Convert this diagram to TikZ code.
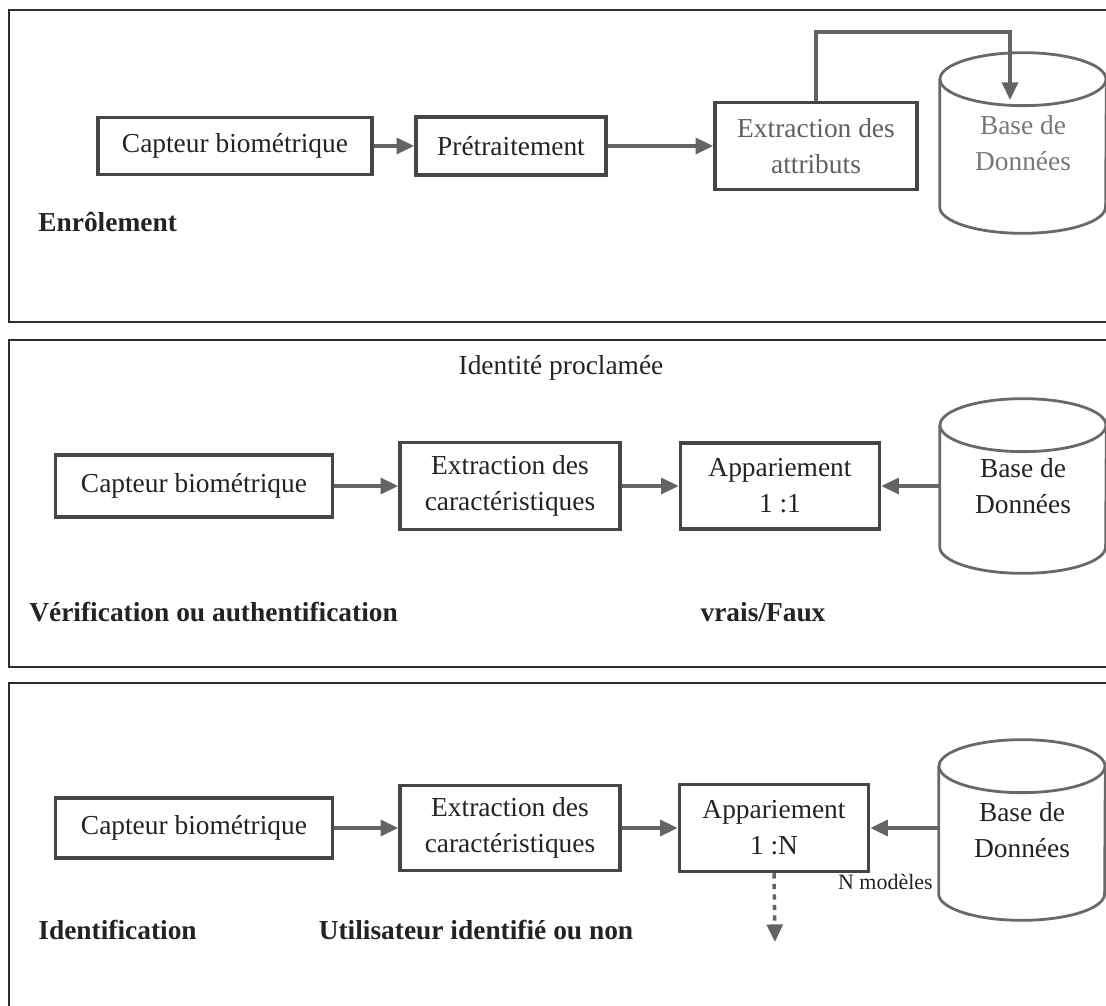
\documentclass[tikz,border=0pt]{standalone}
\usepackage{fontspec}
\setmainfont{Liberation Serif}
\usetikzlibrary{arrows.meta,positioning}
\definecolor{framecolor}{RGB}{45,45,45}
\definecolor{boxcolor}{RGB}{70,70,70}
\definecolor{arrowcolor}{RGB}{100,100,100}
\definecolor{basecolor}{RGB}{105,105,105}
\definecolor{textcolor}{RGB}{35,35,35}
\definecolor{paletext}{RGB}{120,120,120}

\tikzset{
  etape/.style={draw=boxcolor, line width=2pt, fill=white, align=center, text=textcolor,
    font=\fontsize{15.6}{20.5}\selectfont, inner sep=2pt},
  base/.style={align=center, text=textcolor, font=\fontsize{15.6}{20.5}\selectfont,
    minimum width=3.32cm, minimum height=3.6cm, inner sep=0pt},
  trait/.style={draw=basecolor, line width=1.6pt},
  fleche/.style={arrowcolor, line width=2pt, -{Triangle[length=10pt,width=9pt]}},
  titre/.style={font=\bfseries\fontsize{15.6}{19}\selectfont, text=textcolor, anchor=west, inner sep=0pt},
  note/.style={font=\fontsize{15.6}{19}\selectfont, text=textcolor, inner sep=0pt},
  cadre/.style={draw=framecolor, line width=1.2pt}
}

% contour d'un cylindre autour d'un noeud
\newcommand{\cylindre}[1]{%
  \draw[trait] ([yshift=-0.53cm]#1.north west) -- ([yshift=0.53cm]#1.south west)
    arc[start angle=180, end angle=360, x radius=1.66cm, y radius=0.53cm]
    -- ([yshift=-0.53cm]#1.north east);
  \draw[trait] ([yshift=-0.53cm]#1.north) ellipse[x radius=1.66cm, y radius=0.53cm];
}

\begin{document}
\begin{tikzpicture}[x=0.02cm, y=-0.02cm]
\useasboundingbox (0,0) rectangle (1106,1006);
\clip (0,0) rectangle (1106,1006);
\foreach \ytop/\ybot in {10/322,340/667,683/1030}
  \draw[cadre] (9,\ytop) rectangle (1130,\ybot);

% enrolement
\node[etape, minimum width=5.48cm, minimum height=1.14cm] (cap1) at (235,146) {Capteur biométrique};
\node[etape, minimum width=3.8cm, minimum height=1.16cm] (pre1) at (511,146) {Prétraitement};
\node[etape, minimum width=4.04cm, minimum height=1.74cm, text=paletext!80!black] (ext1) at (816,146) {Extraction des\\attributs};
\node[base, text=paletext] (db1) at (1023,143) {Base de\\Données};
\cylindre{db1}
\coordinate (coude1) at (1010,32);
\coordinate (entree1) at (1010,100);
\draw[fleche] (cap1) -- (pre1);
\draw[fleche] (pre1) -- (ext1);
\draw[fleche] (ext1.north) |- (coude1) -- (entree1);
\node[titre] (lab1) at (38,222) {Enrôlement};

% verification
\node[note] (ident2) at (561,368) {Identité proclamée};
\node[etape, minimum width=5.54cm, minimum height=1.24cm] (cap2) at (194,486) {Capteur biométrique};
\node[etape, minimum width=4.4cm, minimum height=1.74cm] (ext2) at (510,486) {Extraction des\\caractéristiques};
\node[etape, minimum width=3.98cm, minimum height=1.72cm] (app2) at (780,486) {Appariement\\1 :1};
\node[base, minimum height=3.48cm] (db2) at (1023,486) {Base de\\Données};
\cylindre{db2}
\draw[fleche] (cap2) -- (ext2);
\draw[fleche] (ext2) -- (app2);
\draw[fleche] (db2) -- (app2);
\node[titre] (lab2) at (29,612) {Vérification ou authentification};
\node[titre, anchor=center] (res2) at (763,612) {vrais/Faux};

% identification
\node[etape, minimum width=5.54cm, minimum height=1.2cm] (cap3) at (194,828) {Capteur biométrique};
\node[etape, minimum width=4.4cm, minimum height=1.7cm] (ext3) at (510,828) {Extraction des\\caractéristiques};
\node[etape, minimum width=3.78cm, minimum height=1.74cm] (app3) at (774,828) {Appariement\\1 :N};
\node[base] (db3) at (1022,830) {Base de\\Données};
\cylindre{db3}
\coordinate (sortie3) at (775,942);
\draw[fleche] (cap3) -- (ext3);
\draw[fleche] (ext3) -- (app3);
\draw[fleche] (db3.west |- app3.east) -- (app3.east);
\draw[fleche, dashed] (app3.south) -- (sortie3);
\node[note, anchor=east, font=\fontsize{12.5}{15}\selectfont] (modeles3) at (933,882) {N modèles};
\node[titre] (lab3) at (38,930) {Identification};
\node[titre, anchor=center] (res3) at (476,930) {Utilisateur identifié ou non};
\end{tikzpicture}
\end{document}
